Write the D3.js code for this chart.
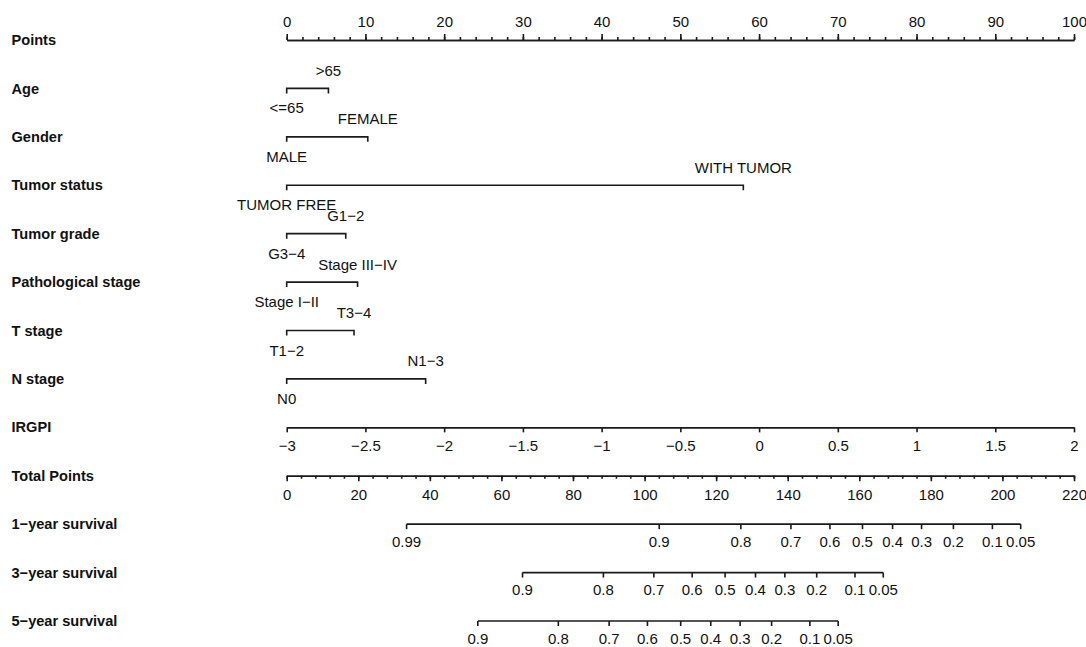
<!DOCTYPE html>
<html>
<head>
<meta charset="utf-8">
<script src="https://cdn.jsdelivr.net/npm/d3@7"></script>
<style>
  body { margin: 0; background: #fff; }
  svg { display: block; font-family: "Liberation Sans", Arial, sans-serif; }
  .axis path, .axis line { stroke: #1a1a1a; stroke-width: 1.6; }
  .axis text { font-size: 15px; fill: #111; font-family: "Liberation Sans", Arial, sans-serif; }
</style>
</head>
<body>
<div class="svg"></div>
<script>
// Rows of the nomogram, top to bottom
var rowNames = ["Points", "Age", "Gender", "Tumor status", "Tumor grade", "Pathological stage",
  "T stage", "N stage", "IRGPI", "Total Points", "1\u2212year survival", "3\u2212year survival", "5\u2212year survival"];

// Categorical variables: reference level sits at 0 points, other level at highPoints
var lowLevels = ["<=65", "MALE", "TUMOR FREE", "G3\u22124", "Stage I\u2212II", "T1\u22122", "N0"];
var highLevels = [">65", "FEMALE", "WITH TUMOR", "G1\u22122", "Stage III\u2212IV", "T3\u22124", "N1\u22123"];
var highPoints = [5.3, 10.3, 58.0, 7.5, 9.0, 8.55, 17.65];

// IRGPI axis ticks
var irgpiTicks = [-3, -2.5, -2, -1.5, -1, -0.5, 0, 0.5, 1, 1.5, 2];

// Survival axes: probability labels and their position on the total points scale
var surv1Labels = ["0.99", "0.9", "0.8", "0.7", "0.6", "0.5", "0.4", "0.3", "0.2", "0.1", "0.05"];
var surv1Points = [33.5, 104.1, 126.9, 140.9, 151.8, 160.9, 169.3, 177.4, 186.3, 197.2, 205.1];
var surv3Labels = ["0.9", "0.8", "0.7", "0.6", "0.5", "0.4", "0.3", "0.2", "0.1", "0.05"];
var surv3Points = [65.9, 88.5, 102.6, 113.3, 122.5, 131.0, 139.2, 148.1, 158.8, 166.7];
var surv5Labels = ["0.9", "0.8", "0.7", "0.6", "0.5", "0.4", "0.3", "0.2", "0.1", "0.05"];
var surv5Points = [53.4, 75.9, 90.1, 100.8, 110.1, 118.5, 126.7, 135.5, 146.2, 154.1];

var width = 1086, height = 647;
var left = 286.7, right = 1074;

var svg = d3.select(".svg").append("svg").attr("width", width).attr("height", height);

// one row every ~48.5px
var yRow = d3.scalePoint().domain(d3.range(rowNames.length)).range([40, 621]);

var xPoints = d3.scaleLinear().domain([0, 100]).range([left, right]);
var xIrgpi = d3.scaleLinear().domain([-3, 2]).range([left, right]);
var xTotal = d3.scaleLinear().domain([0, 220]).range([left, right]);

function minus(v) { return String(v).replace("-", "\u2212"); }

// Row labels
svg.selectAll("text.rowlab").data(rowNames).enter().append("text")
  .attr("class", "rowlab")
  .attr("x", 11.5).attr("y", function(d, i) { return yRow(i); })
  .attr("dy", "0.35em")
  .attr("font-size", "14.6px").attr("font-weight", "bold").attr("fill", "#111")
  .text(function(d) { return d; });

// Points axis (ticks up)
svg.append("g").attr("class", "axis").attr("transform", "translate(0," + yRow(0) + ")")
  .call(d3.axisTop(xPoints).tickValues(d3.range(0, 101, 2)).tickSize(3).tickSizeOuter(0).tickFormat(""));
svg.append("g").attr("class", "axis").attr("transform", "translate(0," + yRow(0) + ")")
  .call(d3.axisTop(xPoints).tickValues(d3.range(0, 101, 10)).tickSize(6).tickSizeOuter(0).tickPadding(7));

// Categorical rows
highPoints.forEach(function(p, i) {
  var y = yRow(i + 1);
  var x0 = xPoints(0), x1 = xPoints(p);
  svg.append("path")
    .attr("d", "M" + x0 + "," + (y + 5) + "V" + y + "H" + x1 + "V" + (y + 5))
    .attr("fill", "none").attr("stroke", "#1a1a1a").attr("stroke-width", 1.6);
  svg.append("text").attr("x", x1).attr("y", y - 12.5)
    .attr("text-anchor", "middle").attr("font-size", "15px").attr("fill", "#111")
    .text(highLevels[i]);
  svg.append("text").attr("x", x0).attr("y", y + 25)
    .attr("text-anchor", "middle").attr("font-size", "15px").attr("fill", "#111")
    .text(lowLevels[i]);
});

// IRGPI
svg.append("g").attr("class", "axis").attr("transform", "translate(0," + yRow(8) + ")")
  .call(d3.axisBottom(xIrgpi).tickValues(irgpiTicks).tickSize(5).tickSizeOuter(0).tickPadding(8.5)
    .tickFormat(minus));

// Total points (ticks down)
svg.append("g").attr("class", "axis").attr("transform", "translate(0," + yRow(9) + ")")
  .call(d3.axisBottom(xTotal).tickValues(d3.range(0, 221, 4)).tickSize(3).tickSizeOuter(0).tickFormat(""));
svg.append("g").attr("class", "axis").attr("transform", "translate(0," + yRow(9) + ")")
  .call(d3.axisBottom(xTotal).tickValues(d3.range(0, 221, 20)).tickSize(5.5).tickSizeOuter(0).tickPadding(8));

// Survival rows
function survAxis(row, pts, labels) {
  var g = svg.append("g").attr("class", "axis").attr("transform", "translate(0," + yRow(row) + ")");
  g.append("path")
    .attr("d", "M" + xTotal(d3.min(pts)) + ",0H" + xTotal(d3.max(pts)))
    .attr("fill", "none");
  var t = g.selectAll("g.tick").data(pts).enter().append("g").attr("class", "tick")
    .attr("transform", function(d) { return "translate(" + xTotal(d) + ",0)"; });
  t.append("line").attr("y2", 5);
  t.append("text").attr("y", 12).attr("dy", "0.71em").attr("text-anchor", "middle")
    .text(function(d, i) { return labels[i]; });
}
survAxis(10, surv1Points, surv1Labels);
survAxis(11, surv3Points, surv3Labels);
survAxis(12, surv5Points, surv5Labels);
</script>
</body>
</html>
